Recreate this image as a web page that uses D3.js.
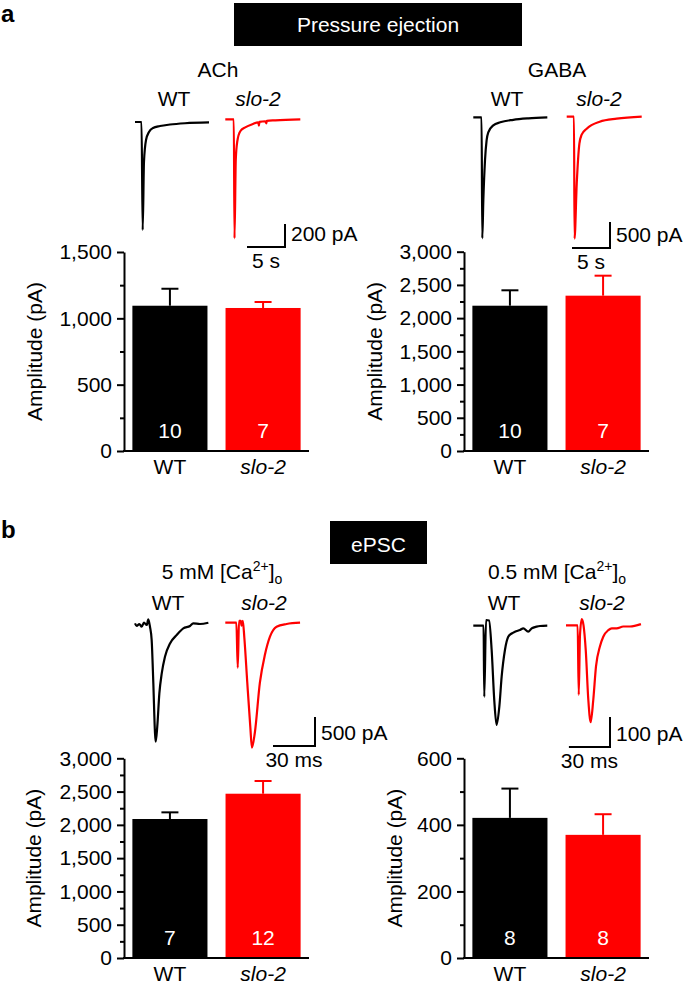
<!DOCTYPE html>
<html>
<head>
<meta charset="utf-8">
<script src="https://cdn.jsdelivr.net/npm/d3@7"></script>
<style>
  html, body { margin: 0; padding: 0; background: #fff; }
  svg { display: block; }
</style>
</head>
<body>
<svg id="chart" width="685" height="985"></svg>
<script>
// ---------------- DATA ----------------
const groups = ["WT", "slo-2"];

// Pressure ejection: ACh
const achMean = [1095, 1078];
const achSem = [128, 45];
const achN = [10, 7];
const achTicks = [0, 500, 1000, 1500];
const achMinor = [250, 750, 1250];

// Pressure ejection: GABA
const gabaMean = [2187, 2338];
const gabaSem = [232, 301];
const gabaN = [10, 7];
const gabaTicks = [0, 500, 1000, 1500, 2000, 2500, 3000];
const gabaMinor = [250, 750, 1250, 1750, 2250, 2750];

// ePSC 5 mM Ca
const ca5Mean = [2088, 2468];
const ca5Sem = [100, 191];
const ca5N = [7, 12];
const ca5Ticks = [0, 500, 1000, 1500, 2000, 2500, 3000];
const ca5Minor = [250, 750, 1250, 1750, 2250, 2750];

// ePSC 0.5 mM Ca
const ca05Mean = [421, 370];
const ca05Sem = [88, 62];
const ca05N = [8, 8];
const ca05Ticks = [0, 200, 400, 600];
const ca05Minor = [100, 300, 500];

// Example traces: [time, current(pA)]; time in s (pressure) or ms (ePSC)
const achWT = [[0,0],[0.86,0],[1.01,-939],[1.18,-348],[1.45,-157],[1.84,-87],[2.37,-52],[3.29,-35],[4.61,-22],[6.58,-11],[9.74,-4]];
const achSlo = [[0,0],[1.12,0],[1.21,-1035],[1.38,-348],[1.58,-191],[1.97,-104],[2.63,-70],[3.55,-43],[4.34,-26],[4.42,-55],[4.5,-22],[5.26,-17],[5.39,-35],[5.47,-13],[6.58,-9],[9.87,0]];
const gabaWT = [[0,0],[1.09,0],[1.18,-2327],[1.32,-1596],[1.54,-827],[1.75,-442],[1.97,-288],[2.63,-154],[3.55,-96],[5.26,-48],[7.24,-19],[9.74,0]];
const gabaSlo = [[0,0],[0.96,0],[1.03,-2346],[1.32,-1288],[1.67,-519],[1.97,-346],[2.63,-231],[4.34,-96],[6.58,-38],[9.87,0]];
const ca5WT = [[0,-12],[1.2,-57],[3.1,-22],[4.8,-69],[6.4,0],[8.4,-40],[9.5,57],[10.7,-69],[11.9,-298],[13.1,-1047],[14.3,-1909],[14.8,-2052],[15.9,-1793],[17.4,-1219],[19.1,-874],[21.4,-586],[25,-357],[29.8,-212],[34.5,-98],[39.3,-57],[41.6,-12],[46.4,-22],[52.4,0]];
const ca5Slo = [[0,0],[6.4,0],[7.9,0],[8.9,-776],[9.8,34],[11,34],[11.6,-52],[12.5,34],[13.6,-259],[15.7,-1034],[17.9,-1810],[19,-2155],[21.1,-1897],[24.7,-1034],[28.3,-552],[31.9,-241],[36.6,-69],[43.8,-22],[53.4,0]];
const ca05WT = [[0,0],[7.5,0],[8,-237],[9.3,19],[11.5,17],[13.4,-81],[15.3,-248],[17,-331],[19,-270],[20.7,-170],[23.1,-81],[25.5,-37],[28,-26],[30.4,-20],[34.1,-14],[36.5,-9],[40.1,-20],[42.6,-9],[46.2,-3],[48.7,-1],[54,0]];
const ca05Slo = [[0,0],[8.5,0],[9.3,-232],[10.2,-33],[11.5,21],[12.8,0],[14.4,-82],[16.3,-249],[18,-323],[19.9,-249],[21.9,-137],[24.8,-70],[27.2,-38],[30.9,-16],[33.4,-10],[37,-10],[41.8,-4],[46.7,-4],[54.7,4]];

// ---------------- LAYOUT ----------------
const FONT = "'Liberation Sans', Arial, Helvetica, sans-serif";
const RED = "#ff0000";
const svg = d3.select("#chart");
const colors = ["#000000", RED];

// Panel letters
svg.append("text").attr("x", 1).attr("y", 22).attr("font-family", FONT)
  .attr("font-weight", "bold").attr("font-size", 24).text("a");
svg.append("text").attr("x", 1).attr("y", 538).attr("font-family", FONT)
  .attr("font-weight", "bold").attr("font-size", 24).text("b");

// Header boxes
function header(cx, y, w, h, label, baseline) {
  svg.append("rect").attr("x", cx - w / 2).attr("y", y).attr("width", w).attr("height", h).attr("fill", "#000");
  svg.append("text").attr("x", cx).attr("y", baseline).attr("text-anchor", "middle")
    .attr("font-family", FONT).attr("font-size", 21).attr("fill", "#fff").text(label);
}
header(378, 3, 288, 43, "Pressure ejection", 31.5);
header(378.5, 521, 97, 43, "ePSC", 552);

// Text helpers
function txt(x, y, s, opts = {}) {
  const t = svg.append("text").attr("x", x).attr("y", y)
    .attr("text-anchor", opts.anchor || "middle")
    .attr("font-family", FONT).attr("font-size", opts.size || 21)
    .attr("fill", opts.fill || "#000");
  if (opts.italic) t.attr("font-style", "italic");
  t.text(s);
  return t;
}
function caTitle(cx, y, prefix) {
  const t = svg.append("text").attr("x", cx).attr("y", y).attr("text-anchor", "middle")
    .attr("font-family", FONT).attr("font-size", 21);
  t.append("tspan").text(prefix + " [Ca");
  t.append("tspan").attr("dy", -8).attr("font-size", 14).text("2+");
  t.append("tspan").attr("dy", 8).text("]");
  t.append("tspan").attr("dy", 5).attr("font-size", 14).text("o");
}

// Condition titles
txt(218, 77, "ACh");
txt(557, 77, "GABA");
caTitle(222, 579, "5 mM");
caTitle(557, 579, "0.5 mM");
[[174, 106], [507, 106], [168, 610], [504, 610]].forEach(p => txt(p[0], p[1], "WT"));
[[258, 106], [599, 106], [264, 610], [602, 610]].forEach(p => txt(p[0], p[1], "slo-2", { italic: true }));

// Traces
function trace(data, ox, oy, pxT, pxI, color) {
  const xs = d3.scaleLinear().domain([0, 1]).range([ox, ox + pxT]);
  const ys = d3.scaleLinear().domain([0, -1]).range([oy, oy + pxI]);
  const line = d3.line().x(d => xs(d[0])).y(d => ys(d[1])).curve(d3.curveMonotoneX);
  svg.append("path").datum(data).attr("d", line).attr("fill", "none")
    .attr("stroke", color).attr("stroke-width", 2.2).attr("stroke-linejoin", "round");
  return { xs, ys };
}
function scaleBar(cx, cy, sc, iVal, tVal, iLabel, tLabel) {
  const h = Math.abs(sc.ys(0) - sc.ys(-iVal));
  const w = sc.xs(tVal) - sc.xs(0);
  svg.append("path").attr("d", `M${cx - w},${cy}H${cx}V${cy - h}`)
    .attr("fill", "none").attr("stroke", "#000").attr("stroke-width", 2);
  txt(cx + 6, cy - 6, iLabel, { anchor: "start" });
  txt(cx - w / 2, cy + 21, tLabel);
}

let s;
trace(achWT, 135, 122, 7.6, 0.115, "#000");
s = trace(achSlo, 225.3, 119.3, 7.6, 0.115, RED);
scaleBar(285, 247, s, 200, 5, "200 pA", "5 s");

trace(gabaWT, 473.3, 117.3, 7.6, 0.052, "#000");
s = trace(gabaSlo, 566.7, 116.7, 7.6, 0.052, RED);
scaleBar(610, 248, s, 500, 5, "500 pA", "5 s");

trace(ca5WT, 135, 622.7, 1.4, 0.058, "#000");
s = trace(ca5Slo, 225.3, 622.7, 1.4, 0.058, RED);
scaleBar(315, 746, s, 500, 30, "500 pA", "30 ms");

trace(ca05WT, 473.3, 625.7, 1.37, 0.3, "#000");
s = trace(ca05Slo, 566, 625.3, 1.37, 0.3, RED);
scaleBar(610, 747, s, 100, 30, "100 pA", "30 ms");

// Bar charts
function barChart(cfg) {
  const g = svg.append("g");
  const x = d3.scaleBand().domain(groups).range([cfg.x0, cfg.x1])
    .paddingInner(0.194).paddingOuter(0.09);
  const y = d3.scaleLinear().domain([0, cfg.ticks[cfg.ticks.length - 1]]).range([cfg.yb, cfg.yt]);

  // bars
  g.selectAll("rect.bar").data(groups).join("rect")
    .attr("x", d => x(d)).attr("width", x.bandwidth())
    .attr("y", (d, i) => y(cfg.mean[i])).attr("height", (d, i) => y(0) - y(cfg.mean[i]))
    .attr("fill", (d, i) => colors[i]);
  // error bars
  groups.forEach((d, i) => {
    const cx = x(d) + x.bandwidth() / 2;
    const top = y(cfg.mean[i] + cfg.sem[i]);
    g.append("line").attr("x1", cx).attr("x2", cx).attr("y1", y(cfg.mean[i])).attr("y2", top)
      .attr("stroke", colors[i]).attr("stroke-width", 2);
    g.append("line").attr("x1", cx - 8.5).attr("x2", cx + 8.5).attr("y1", top).attr("y2", top)
      .attr("stroke", colors[i]).attr("stroke-width", 2);
    // n labels
    g.append("text").attr("x", cx).attr("y", y(0) - 13).attr("text-anchor", "middle")
      .attr("font-family", FONT).attr("font-size", 21).attr("fill", "#fff").text(cfg.n[i]);
    // category labels
    const t = g.append("text").attr("x", cx).attr("y", y(0) + 23).attr("text-anchor", "middle")
      .attr("font-family", FONT).attr("font-size", 21).text(d);
    if (i === 1) t.attr("font-style", "italic");
  });

  // y axis
  const ax = g.append("g").attr("transform", `translate(${cfg.x0},0)`)
    .call(d3.axisLeft(y).tickValues(cfg.ticks).tickFormat(d3.format(",")).tickSize(7).tickPadding(5).tickSizeOuter(0));
  ax.select(".domain").attr("stroke-width", 2);
  ax.selectAll(".tick line").attr("stroke-width", 2);
  ax.selectAll(".tick text").attr("font-family", FONT).attr("font-size", 21).attr("fill", "#000");
  const mn = g.append("g").attr("transform", `translate(${cfg.x0},0)`)
    .call(d3.axisLeft(y).tickValues(cfg.minor).tickFormat("").tickSize(4).tickSizeOuter(0));
  mn.select(".domain").remove();
  mn.selectAll(".tick line").attr("stroke-width", 2);

  // x axis line
  g.append("line").attr("x1", cfg.x0 - 1).attr("x2", cfg.x1).attr("y1", y(0)).attr("y2", y(0))
    .attr("stroke", "#000").attr("stroke-width", 2);

  // y label
  g.append("text").attr("transform", `translate(${cfg.labelX},${(cfg.yb + cfg.yt) / 2}) rotate(-90)`)
    .attr("text-anchor", "middle").attr("font-family", FONT).attr("font-size", 21)
    .text("Amplitude (pA)");
}

barChart({ mean: achMean, sem: achSem, n: achN, ticks: achTicks, minor: achMinor, x0: 124, x1: 309, yb: 451, yt: 252, labelX: 42 });
barChart({ mean: gabaMean, sem: gabaSem, n: gabaN, ticks: gabaTicks, minor: gabaMinor, x0: 464, x1: 649, yb: 451, yt: 251.7, labelX: 382 });
barChart({ mean: ca5Mean, sem: ca5Sem, n: ca5N, ticks: ca5Ticks, minor: ca5Minor, x0: 124, x1: 309, yb: 958, yt: 758.3, labelX: 41 });
barChart({ mean: ca05Mean, sem: ca05Sem, n: ca05N, ticks: ca05Ticks, minor: ca05Minor, x0: 464, x1: 649, yb: 958, yt: 758.3, labelX: 402 });
</script>
</body>
</html>
